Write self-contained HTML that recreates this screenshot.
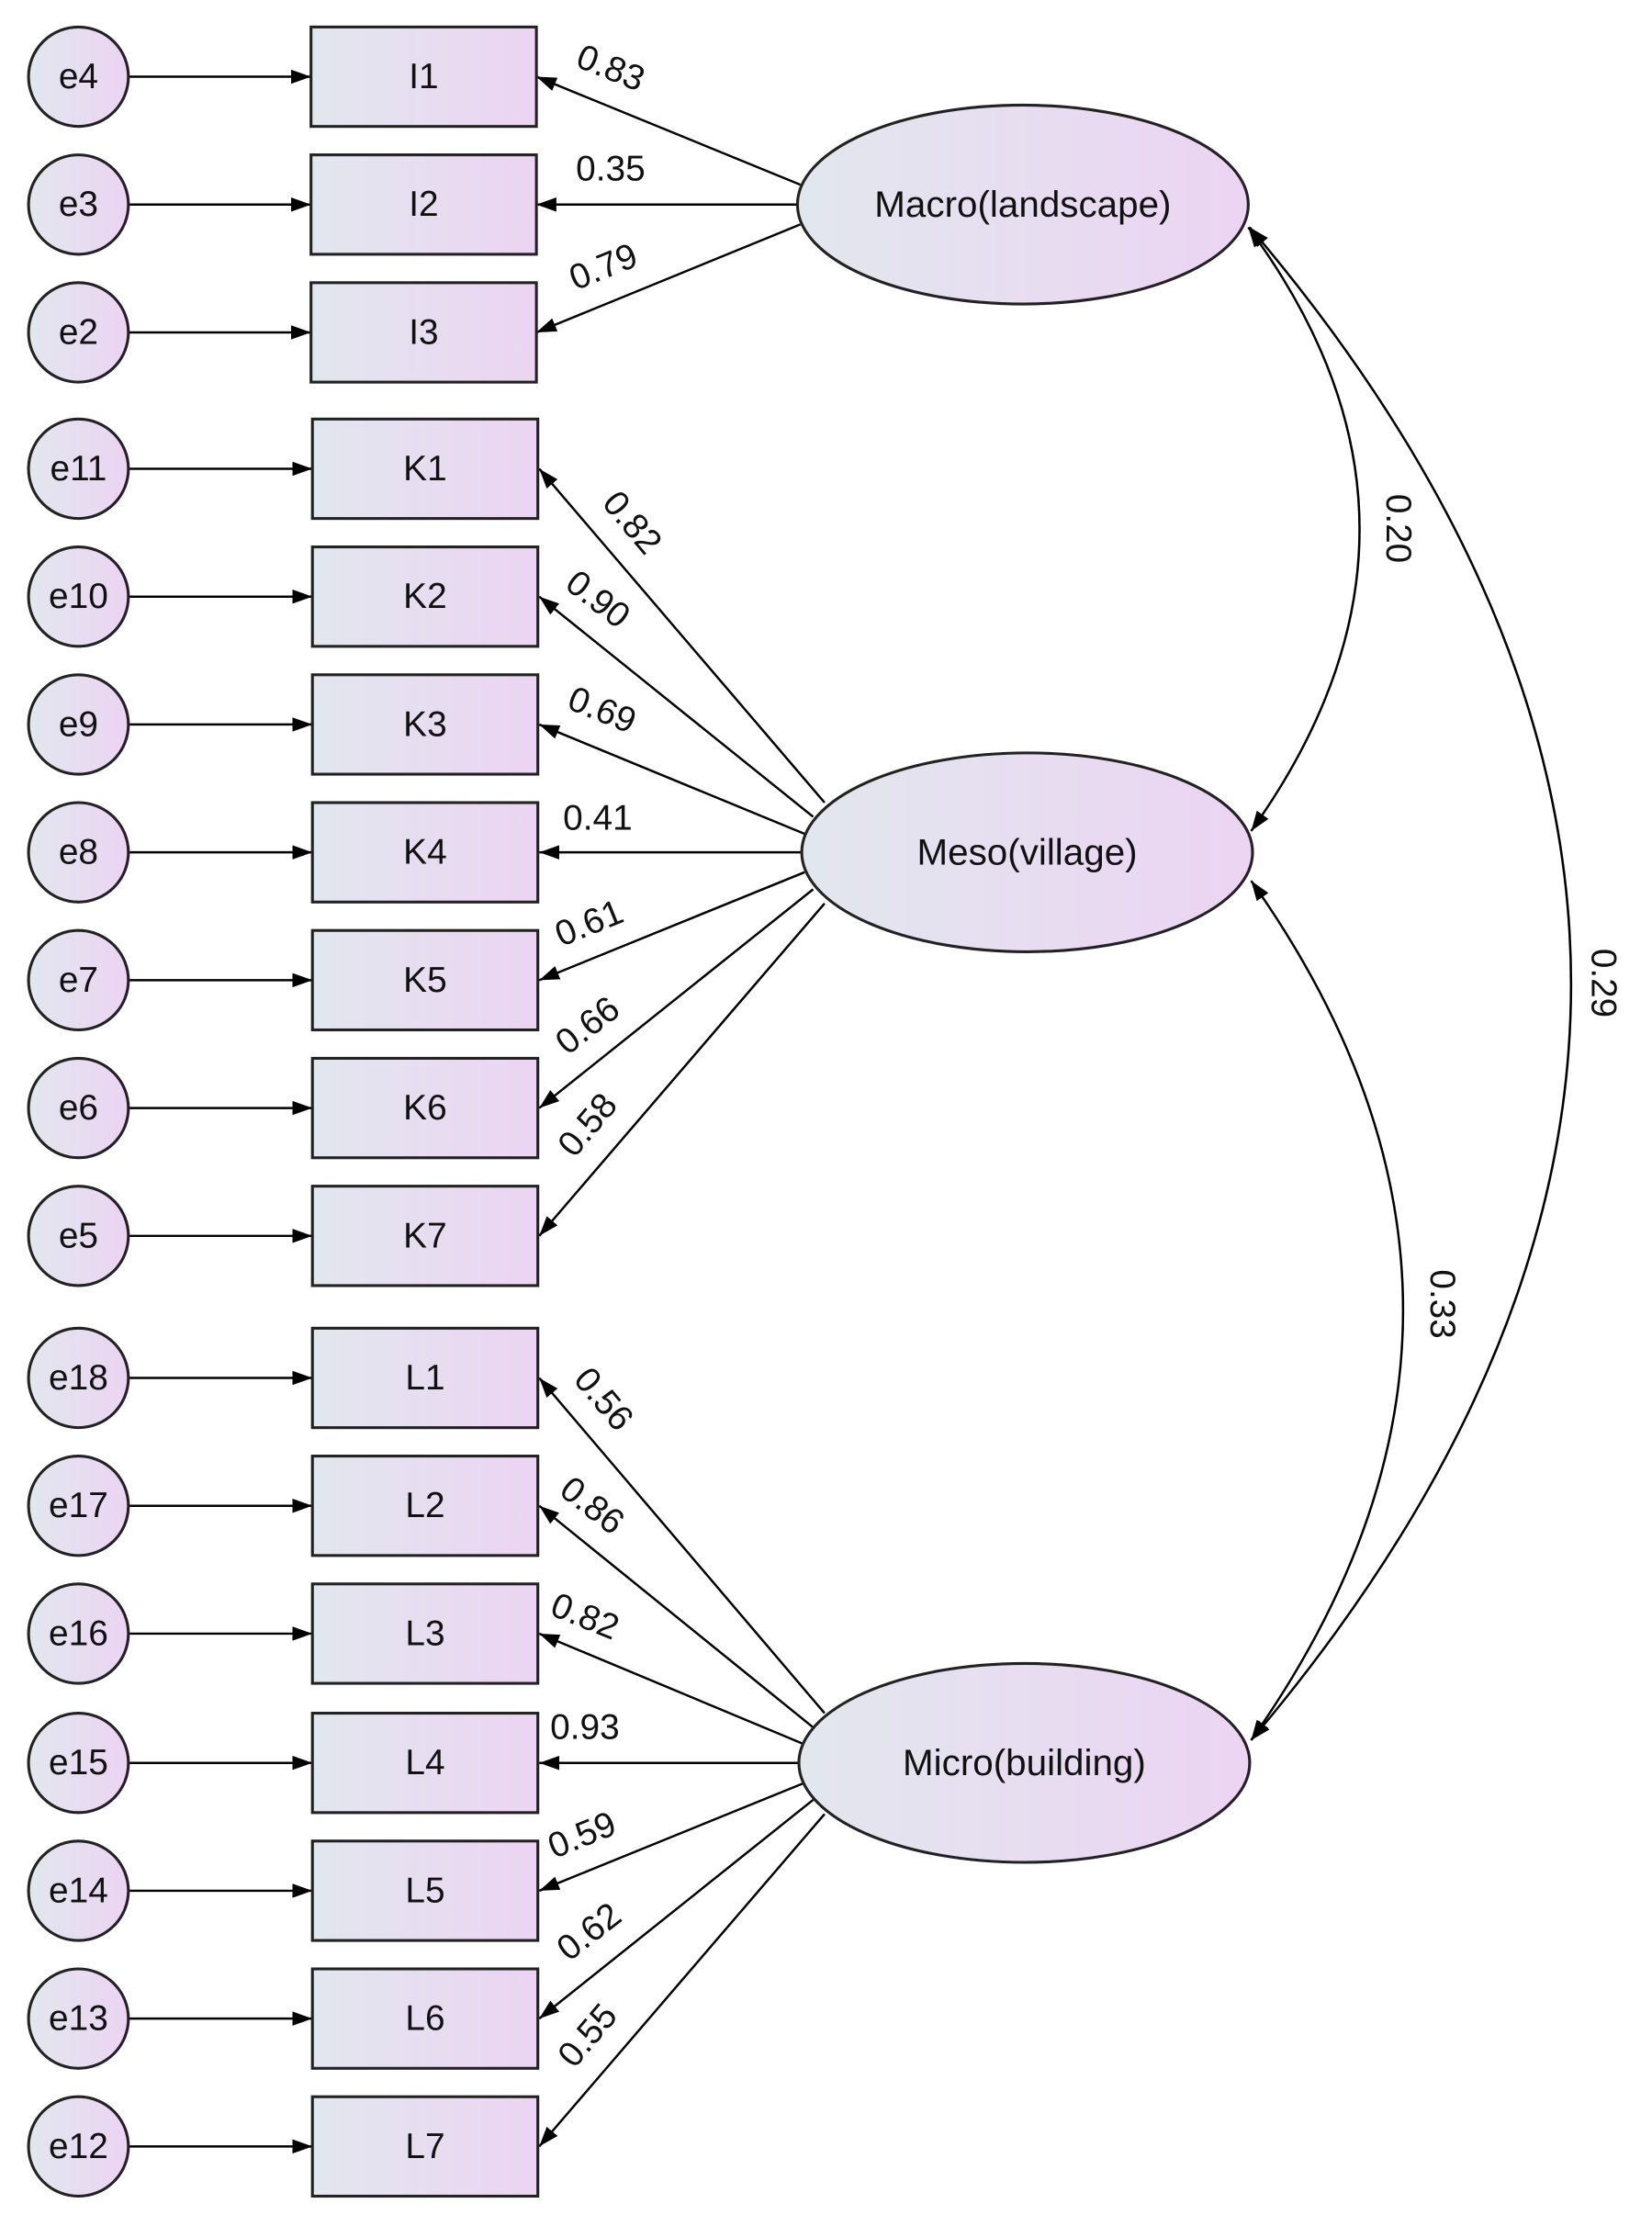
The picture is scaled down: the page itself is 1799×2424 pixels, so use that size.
<!DOCTYPE html>
<html><head><meta charset="utf-8"><style>html,body{margin:0;padding:0;background:#fff}svg{display:block}text{font-family:"Liberation Sans",sans-serif;fill:#111}</style></head><body>
<svg width="1799" height="2424" viewBox="0 0 1158 1567" preserveAspectRatio="none" xmlns="http://www.w3.org/2000/svg">
<defs>
<linearGradient id="g" x1="0" y1="0" x2="1" y2="0"><stop offset="0" stop-color="#e2e7ee"/><stop offset="1" stop-color="#ecd4f3"/></linearGradient>
<marker id="a" viewBox="0 0 14 10" refX="14" refY="5" markerWidth="14" markerHeight="10" markerUnits="userSpaceOnUse" orient="auto"><path d="M0,0 L14,5 L0,10 z" fill="#000"/></marker>
<marker id="s" viewBox="0 0 14 10" refX="0" refY="5" markerWidth="14" markerHeight="10" markerUnits="userSpaceOnUse" orient="auto"><path d="M14,0 L0,5 L14,10 z" fill="#000"/></marker>
</defs>
<g stroke="#000" stroke-width="1.6" fill="none" marker-end="url(#a)">
<line x1="90" y1="54" x2="218" y2="54"/><line x1="90" y1="144" x2="218" y2="144"/><line x1="90" y1="234" x2="218" y2="234"/>
<line x1="90" y1="330" x2="219" y2="330"/><line x1="90" y1="420" x2="219" y2="420"/><line x1="90" y1="510" x2="219" y2="510"/><line x1="90" y1="600" x2="219" y2="600"/><line x1="90" y1="690" x2="219" y2="690"/><line x1="90" y1="780" x2="219" y2="780"/><line x1="90" y1="870" x2="219" y2="870"/>
<line x1="90" y1="970" x2="219" y2="970"/><line x1="90" y1="1060" x2="219" y2="1060"/><line x1="90" y1="1150" x2="219" y2="1150"/><line x1="90" y1="1241" x2="219" y2="1241"/><line x1="90" y1="1331" x2="219" y2="1331"/><line x1="90" y1="1421" x2="219" y2="1421"/><line x1="90" y1="1511" x2="219" y2="1511"/>
<line x1="561" y1="130" x2="376" y2="54"/><line x1="559" y1="144" x2="376" y2="144"/><line x1="561" y1="158" x2="376" y2="234"/>
<line x1="578" y1="565" x2="378" y2="330"/><line x1="570" y1="575" x2="378" y2="420"/><line x1="564" y1="587" x2="378" y2="510"/><line x1="562" y1="600" x2="378" y2="600"/><line x1="564" y1="614" x2="378" y2="690"/><line x1="570" y1="626" x2="378" y2="780"/><line x1="578" y1="636" x2="378" y2="870"/>
<line x1="578" y1="1206" x2="378" y2="970"/><line x1="570" y1="1216" x2="378" y2="1060"/><line x1="564" y1="1228" x2="378" y2="1150"/><line x1="562" y1="1241" x2="378" y2="1241"/><line x1="564" y1="1255" x2="378" y2="1331"/><line x1="570" y1="1267" x2="378" y2="1421"/><line x1="578" y1="1277" x2="378" y2="1511"/>
<path d="M875,160 Q1030,370 877,585" marker-start="url(#s)"/>
<path d="M876,160 Q1326,692 877,1225" marker-start="url(#s)"/>
<path d="M877,620 Q1090,922 877,1225" marker-start="url(#s)"/>
</g>
<g stroke="#222" stroke-width="2" fill="url(#g)">
<circle cx="55" cy="54" r="35"/><circle cx="55" cy="144" r="35"/><circle cx="55" cy="234" r="35"/>
<circle cx="55" cy="330" r="35"/><circle cx="55" cy="420" r="35"/><circle cx="55" cy="510" r="35"/><circle cx="55" cy="600" r="35"/><circle cx="55" cy="690" r="35"/><circle cx="55" cy="780" r="35"/><circle cx="55" cy="870" r="35"/>
<circle cx="55" cy="970" r="35"/><circle cx="55" cy="1060" r="35"/><circle cx="55" cy="1150" r="35"/><circle cx="55" cy="1241" r="35"/><circle cx="55" cy="1331" r="35"/><circle cx="55" cy="1421" r="35"/><circle cx="55" cy="1511" r="35"/>
<rect x="218" y="19" width="158" height="70"/><rect x="218" y="109" width="158" height="70"/><rect x="218" y="199" width="158" height="70"/>
<rect x="219" y="295" width="158" height="70"/><rect x="219" y="385" width="158" height="70"/><rect x="219" y="475" width="158" height="70"/><rect x="219" y="565" width="158" height="70"/><rect x="219" y="655" width="158" height="70"/><rect x="219" y="745" width="158" height="70"/><rect x="219" y="835" width="158" height="70"/>
<rect x="219" y="935" width="158" height="70"/><rect x="219" y="1025" width="158" height="70"/><rect x="219" y="1115" width="158" height="70"/><rect x="219" y="1206" width="158" height="70"/><rect x="219" y="1296" width="158" height="70"/><rect x="219" y="1386" width="158" height="70"/><rect x="219" y="1476" width="158" height="70"/>
<ellipse cx="717" cy="144" rx="158" ry="70"/><ellipse cx="720" cy="600" rx="158" ry="70"/><ellipse cx="718" cy="1241" rx="158" ry="70"/>
</g>
<g font-size="25" text-anchor="middle" dominant-baseline="central">
<text x="55" y="54">e4</text><text x="55" y="144">e3</text><text x="55" y="234">e2</text>
<text x="55" y="330">e11</text><text x="55" y="420">e10</text><text x="55" y="510">e9</text><text x="55" y="600">e8</text><text x="55" y="690">e7</text><text x="55" y="780">e6</text><text x="55" y="870">e5</text>
<text x="55" y="970">e18</text><text x="55" y="1060">e17</text><text x="55" y="1150">e16</text><text x="55" y="1241">e15</text><text x="55" y="1331">e14</text><text x="55" y="1421">e13</text><text x="55" y="1511">e12</text>
<text x="297" y="54">I1</text><text x="297" y="144">I2</text><text x="297" y="234">I3</text>
<text x="298" y="330">K1</text><text x="298" y="420">K2</text><text x="298" y="510">K3</text><text x="298" y="600">K4</text><text x="298" y="690">K5</text><text x="298" y="780">K6</text><text x="298" y="870">K7</text>
<text x="298" y="970">L1</text><text x="298" y="1060">L2</text><text x="298" y="1150">L3</text><text x="298" y="1241">L4</text><text x="298" y="1331">L5</text><text x="298" y="1421">L6</text><text x="298" y="1511">L7</text>
<text x="717" y="144" font-size="26">Macro(landscape)</text><text x="720" y="600" font-size="26">Meso(village)</text><text x="718" y="1241" font-size="26">Micro(building)</text>
</g>
<g font-size="25" text-anchor="middle" dominant-baseline="central">
<text transform="translate(428,48) rotate(22)">0.83</text>
<text x="428" y="119">0.35</text>
<text transform="translate(423,188) rotate(-22)">0.79</text>
<text transform="translate(443,368) rotate(50)">0.82</text>
<text transform="translate(419,422) rotate(38)">0.90</text>
<text transform="translate(422,500) rotate(22)">0.69</text>
<text x="419" y="576">0.41</text>
<text transform="translate(413,650) rotate(-22)">0.61</text>
<text transform="translate(412,722) rotate(-38)">0.66</text>
<text transform="translate(412,792) rotate(-50)">0.58</text>
<text transform="translate(423,985) rotate(50)">0.56</text>
<text transform="translate(415,1060) rotate(38)">0.86</text>
<text transform="translate(410,1138) rotate(22)">0.82</text>
<text x="410" y="1216">0.93</text>
<text transform="translate(408,1292) rotate(-22)">0.59</text>
<text transform="translate(413,1360) rotate(-38)">0.62</text>
<text transform="translate(412,1433) rotate(-50)">0.55</text>
<text transform="translate(980,372) rotate(90)">0.20</text>
<text transform="translate(1124,692) rotate(90)">0.29</text>
<text transform="translate(1011,918) rotate(90)">0.33</text>
</g>
</svg>
</body></html>
